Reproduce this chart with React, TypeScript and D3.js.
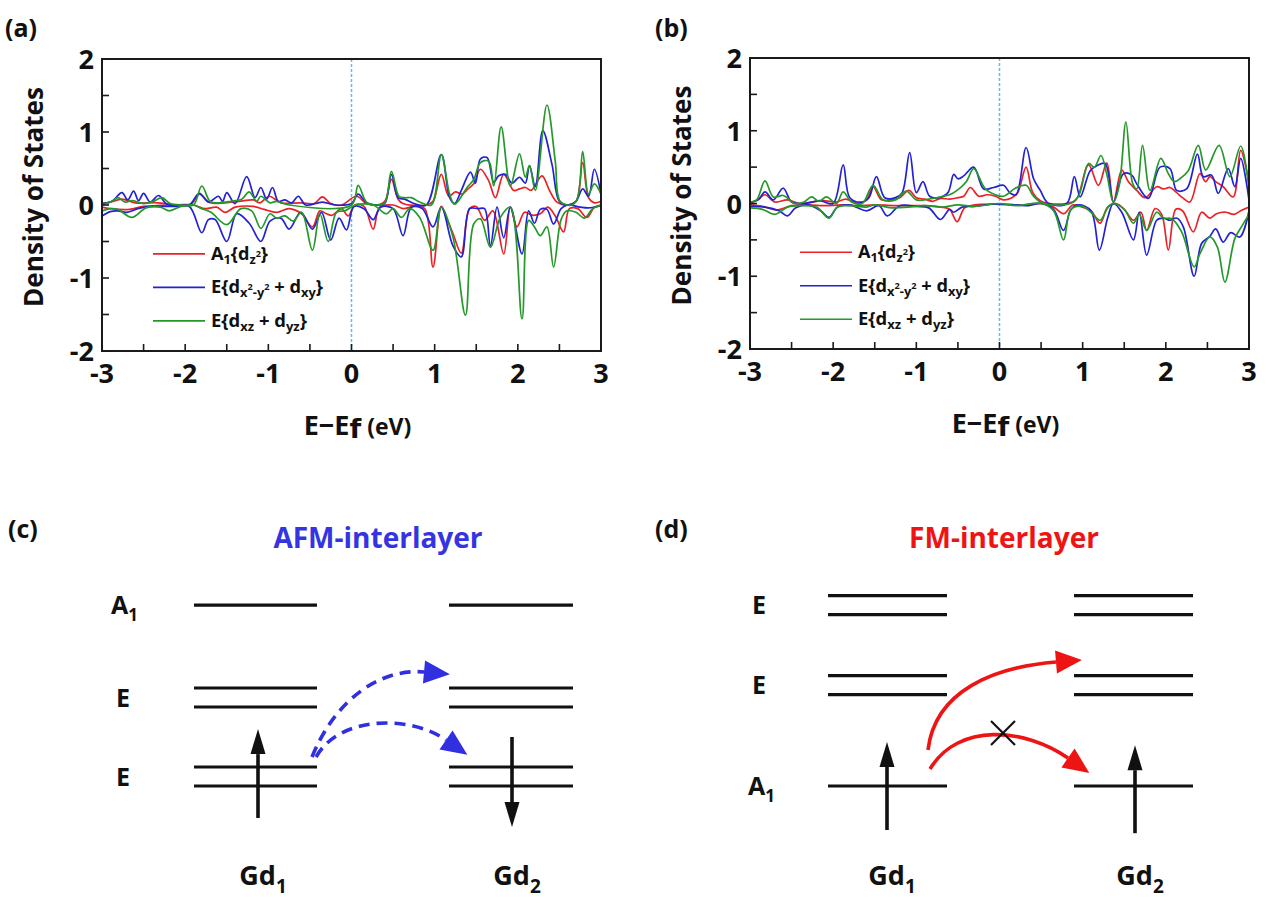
import React from 'react';
import * as d3 from 'd3';

type P = [number, number];

// ---------- axis data ----------
const energyTicks = [-3, -2, -1, 0, 1, 2, 3];
const energyMinor = [-3, -2.5, -2, -1.5, -1, -0.5, 0, 0.5, 1, 1.5, 2, 2.5, 3];
const dosTicks = [-2, -1, 0, 1, 2];
const dosMinor = [-2, -1.5, -1, -0.5, 0, 0.5, 1, 1.5, 2];
const seriesColors = ['#ea2228', '#2222d4', '#24992a'];

// ---------- panel (a) : AFM ----------
const aA1Up: P[] = [[-3,0.02],[-2.9,0.04],[-2.76,0.08],[-2.6,0.03],[-2.33,0.03],[-2.1,0],[-1.92,0.02],[-1.83,0.15],[-1.7,0.03],[-1.52,0.03],[-1.35,0.05],[-1.18,0.07],[-1.1,0.03],[-0.99,0.12],[-0.85,0.03],[-0.61,0.03],[-0.45,0.02],[-0.35,0.11],[-0.25,0.02],[-0.12,0],[0.06,0.12],[0.18,0.02],[0.3,0],[0.4,0.05],[0.48,0.35],[0.56,0.08],[0.62,0.02],[0.9,0],[0.98,0.05],[1.08,0.42],[1.17,0.12],[1.25,0.18],[1.33,0.15],[1.4,0.22],[1.47,0.29],[1.55,0.49],[1.65,0.33],[1.73,0.1],[1.83,0.42],[1.95,0.2],[2.02,0.22],[2.09,0.24],[2.16,0.2],[2.29,0.4],[2.38,0.2],[2.47,0.04],[2.6,0],[2.7,0.05],[2.78,0.58],[2.85,0.1],[2.92,0.03],[3,0.05]];
const aA1Dn: P[] = [[-3,-0.03],[-2.9,-0.05],[-2.67,-0.06],[-2.5,-0.02],[-2.2,0],[-1.9,0],[-1.76,-0.05],[-1.62,-0.03],[-1.52,-0.1],[-1.4,-0.03],[-1.18,-0.02],[-1.05,-0.06],[-0.9,-0.1],[-0.75,-0.05],[-0.6,-0.12],[-0.47,-0.3],[-0.38,-0.08],[-0.3,-0.12],[-0.23,-0.14],[-0.12,-0.05],[-0.04,-0.15],[0.04,0],[0.15,-0.02],[0.26,-0.33],[0.34,-0.03],[0.5,0],[0.62,-0.05],[0.75,-0.02],[0.88,-0.05],[0.98,-0.85],[1.08,-0.02],[1.15,-0.2],[1.22,-0.39],[1.32,-0.66],[1.42,-0.05],[1.5,-0.02],[1.6,-0.21],[1.7,-0.08],[1.83,-0.67],[1.91,-0.03],[1.99,-0.3],[2.08,-0.1],[2.17,-0.14],[2.27,-0.12],[2.36,-0.03],[2.45,-0.15],[2.55,-0.37],[2.62,-0.05],[2.72,-0.05],[2.83,-0.17],[2.92,-0.03],[3,0]];
const aEUp: P[] = [[-3,0.02],[-2.88,0.05],[-2.76,0.17],[-2.69,0.07],[-2.62,0.19],[-2.56,0.06],[-2.5,0.16],[-2.42,0.04],[-2.32,0.13],[-2.22,0.01],[-2.1,0],[-1.95,0],[-1.83,0.16],[-1.72,0.04],[-1.6,0.12],[-1.55,0.05],[-1.5,0.17],[-1.4,0.02],[-1.26,0.39],[-1.16,0.1],[-1.09,0.24],[-1.02,0.08],[-0.95,0.24],[-0.88,0.05],[-0.8,0.07],[-0.72,0.03],[-0.64,0.12],[-0.55,0],[-0.35,0.04],[-0.2,0],[0,0.02],[0.08,0.15],[0.18,0.03],[0.3,0],[0.4,0.02],[0.48,0.42],[0.56,0.1],[0.64,0.08],[0.75,0.02],[0.9,0],[1.08,0.69],[1.18,0.1],[1.24,0.02],[1.32,0.2],[1.43,0.45],[1.49,0.3],[1.55,0.63],[1.63,0.65],[1.71,0.31],[1.77,0.4],[1.85,0.42],[1.93,0.3],[2.02,0.38],[2.09,0.3],[2.14,0.54],[2.21,0.25],[2.3,1.02],[2.41,0.56],[2.5,0.05],[2.6,0],[2.7,0.05],[2.78,0.22],[2.85,0.12],[2.92,0.49],[3,0.15]];
const aEDn: P[] = [[-3,-0.15],[-2.9,-0.09],[-2.81,-0.08],[-2.7,-0.1],[-2.57,-0.05],[-2.4,-0.02],[-2.14,-0.02],[-1.95,-0.02],[-1.8,-0.38],[-1.72,-0.2],[-1.64,-0.2],[-1.5,-0.5],[-1.38,-0.12],[-1.23,-0.25],[-1.09,-0.5],[-0.98,-0.22],[-0.85,-0.18],[-0.75,-0.33],[-0.61,-0.1],[-0.47,-0.33],[-0.36,-0.1],[-0.25,-0.48],[-0.15,-0.18],[-0.06,-0.34],[0.03,-0.02],[0.15,-0.05],[0.26,-0.2],[0.35,-0.03],[0.5,-0.05],[0.62,-0.42],[0.72,-0.03],[0.85,-0.05],[0.98,-0.3],[1.08,-0.03],[1.22,-0.56],[1.32,-0.71],[1.42,-0.05],[1.52,-0.05],[1.6,-0.05],[1.67,-0.56],[1.75,-0.03],[1.83,-0.45],[1.91,-0.03],[2.05,-0.67],[2.13,-0.08],[2.2,-0.25],[2.27,-0.06],[2.35,-0.06],[2.43,-0.26],[2.52,-0.05],[2.6,0],[2.75,-0.03],[2.85,-0.04],[3,-0.01]];
const aExzUp: P[] = [[-3,0],[-2.88,0.05],[-2.81,0.1],[-2.72,0.04],[-2.64,0.06],[-2.5,0.02],[-2.38,0.05],[-2.28,0.1],[-2.18,0.02],[-2.05,0],[-1.9,0],[-1.8,0.26],[-1.7,0.05],[-1.6,0.03],[-1.45,0.05],[-1.32,0.08],[-1.23,0.18],[-1.14,0.05],[-1.09,0.12],[-0.98,0.03],[-0.9,0.05],[-0.75,0],[0,0],[0.08,0.27],[0.18,0.04],[0.3,0],[0.4,0.03],[0.48,0.46],[0.57,0.12],[0.64,0.1],[0.72,0.1],[0.82,0.04],[0.96,0],[1.08,0.69],[1.18,0.15],[1.24,0.01],[1.39,0.24],[1.47,0.35],[1.55,0.58],[1.65,0.6],[1.71,0.26],[1.8,1.07],[1.91,0.26],[2.02,0.7],[2.09,0.38],[2.14,0.54],[2.21,0.2],[2.35,1.37],[2.45,0.6],[2.51,0.05],[2.65,0],[2.72,0.1],[2.78,0.73],[2.85,0.15],[2.92,0.29],[3,0.15]];
const aExzDn: P[] = [[-3,-0.08],[-2.9,-0.05],[-2.81,-0.06],[-2.64,-0.17],[-2.47,-0.04],[-2.3,-0.03],[-2.19,-0.08],[-2.05,-0.02],[-1.9,0],[-1.8,-0.05],[-1.69,-0.1],[-1.5,-0.27],[-1.33,-0.05],[-1.2,-0.08],[-1.09,-0.32],[-0.98,-0.12],[-0.9,-0.18],[-0.8,-0.15],[-0.7,-0.22],[-0.6,-0.1],[-0.47,-0.62],[-0.38,-0.12],[-0.28,-0.5],[-0.18,-0.1],[-0.08,-0.08],[0.05,0],[0.26,0],[0.42,-0.12],[0.5,-0.05],[0.6,-0.17],[0.7,-0.05],[0.82,-0.17],[0.98,-0.62],[1.08,-0.03],[1.22,-0.44],[1.37,-1.51],[1.47,-0.26],[1.55,-0.19],[1.67,-0.58],[1.79,-0.17],[1.91,-0.03],[2.05,-1.56],[2.13,-0.21],[2.2,-0.3],[2.27,-0.42],[2.35,-0.3],[2.43,-0.85],[2.52,-0.2],[2.59,-0.08],[2.7,-0.1],[2.8,-0.18],[2.9,-0.05],[3,0]];

// ---------- panel (b) : FM ----------
const bA1Up: P[] = [[-3,0],[-2.9,0.06],[-2.82,0.12],[-2.7,0.02],[-2.55,0.05],[-2.4,0],[-2.25,0.02],[-2.12,0.04],[-1.96,0.02],[-1.85,0.06],[-1.7,0],[-1.6,0.05],[-1.52,0.23],[-1.42,0.05],[-1.3,0.05],[-1.2,0.08],[-1.09,0.18],[-1,0.08],[-0.9,0.06],[-0.8,0.03],[-0.71,0.07],[-0.6,0.06],[-0.5,0.08],[-0.43,0.1],[-0.35,0.22],[-0.25,0.1],[-0.15,0.12],[-0.05,0.1],[0.05,0.05],[0.15,0.08],[0.22,0.15],[0.32,0.5],[0.4,0.15],[0.5,0.03],[0.6,0],[0.8,0],[0.92,0.05],[1.07,0.53],[1.19,0.25],[1.29,0.56],[1.37,0.02],[1.47,0.46],[1.55,0.3],[1.65,0.18],[1.75,0.08],[1.89,0.23],[1.97,0.2],[2.05,0.22],[2.13,0.15],[2.2,0.08],[2.29,0.02],[2.41,0.41],[2.48,0.3],[2.53,0.37],[2.6,0.3],[2.69,0.23],[2.81,0.09],[2.9,0.73],[2.99,0.37],[3,0.35]];
const bA1Dn: P[] = [[-3,-0.02],[-2.85,-0.04],[-2.68,-0.09],[-2.5,-0.03],[-2.3,-0.02],[-2.1,-0.03],[-1.9,-0.02],[-1.7,-0.03],[-1.5,-0.02],[-1.2,-0.03],[-0.9,-0.03],[-0.7,-0.05],[-0.6,-0.08],[-0.51,-0.25],[-0.42,-0.06],[-0.3,-0.02],[0,-0.01],[0.3,-0.02],[0.5,0],[0.65,-0.05],[0.77,-0.14],[0.88,-0.02],[1,-0.05],[1.1,-0.1],[1.21,-0.27],[1.3,-0.05],[1.4,0],[1.5,-0.08],[1.61,-0.23],[1.7,-0.12],[1.77,-0.37],[1.87,-0.07],[1.95,-0.15],[2.03,-0.64],[2.12,-0.08],[2.2,-0.1],[2.33,-0.39],[2.43,-0.12],[2.53,-0.2],[2.61,-0.14],[2.72,-0.12],[2.82,-0.15],[2.9,-0.1],[3,-0.05]];
const bEUp: P[] = [[-3,0.02],[-2.9,0.05],[-2.82,0.16],[-2.72,0.05],[-2.6,0.21],[-2.5,0.02],[-2.35,0],[-2.16,0.04],[-2,0],[-1.88,0.53],[-1.8,0.08],[-1.66,0.02],[-1.57,0.08],[-1.48,0.37],[-1.38,0.08],[-1.25,0.08],[-1.17,0.15],[-1.08,0.7],[-1,0.15],[-0.92,0.3],[-0.84,0.1],[-0.73,0.08],[-0.62,0.15],[-0.55,0.4],[-0.5,0.34],[-0.43,0.38],[-0.31,0.5],[-0.19,0.2],[-0.07,0.22],[0.05,0.25],[0.13,0.14],[0.2,0.12],[0.32,0.77],[0.41,0.34],[0.49,0.18],[0.59,0],[0.81,0],[0.9,0.37],[0.97,0.09],[1.09,0.45],[1.17,0.52],[1.27,0.55],[1.37,0.02],[1.49,0.41],[1.59,0.39],[1.65,0.27],[1.79,0.07],[1.93,0.5],[2.05,0.48],[2.13,0.18],[2.25,0.2],[2.38,0.68],[2.45,0.37],[2.55,0.39],[2.63,0.14],[2.75,0.48],[2.83,0.23],[2.9,0.62],[3,0.05]];
const bEDn: P[] = [[-3,-0.04],[-2.82,-0.05],[-2.65,-0.1],[-2.55,-0.17],[-2.45,-0.06],[-2.3,-0.02],[-2.15,-0.1],[-2.05,-0.19],[-1.95,-0.05],[-1.8,-0.02],[-1.6,-0.1],[-1.45,-0.03],[-1.35,-0.17],[-1.2,-0.03],[-1,-0.04],[-0.85,-0.06],[-0.71,-0.22],[-0.6,-0.08],[-0.55,-0.12],[-0.45,-0.05],[-0.3,-0.04],[-0.1,-0.01],[0.2,-0.02],[0.35,-0.03],[0.5,0],[0.65,-0.08],[0.77,-0.37],[0.86,-0.08],[0.95,-0.02],[1.1,-0.1],[1.2,-0.64],[1.3,-0.2],[1.37,0],[1.47,-0.12],[1.61,-0.5],[1.68,-0.12],[1.77,-0.71],[1.89,-0.23],[1.97,-0.2],[2.05,-0.23],[2.13,-0.2],[2.21,-0.32],[2.34,-1],[2.43,-0.55],[2.53,-0.45],[2.6,-0.35],[2.69,-0.53],[2.78,-0.4],[2.89,-0.46],[3,-0.1]];
const bExzUp: P[] = [[-3,0.02],[-2.92,0.05],[-2.82,0.31],[-2.72,0.09],[-2.6,0.11],[-2.46,0],[-2.35,0.02],[-2.26,0.09],[-2.17,0.03],[-2.08,0.09],[-1.96,0],[-1.88,0.16],[-1.78,0.02],[-1.65,0],[-1.52,0.25],[-1.4,0.05],[-1.25,0.05],[-1.12,0.17],[-1,0.05],[-0.85,0.06],[-0.71,0.09],[-0.6,0.12],[-0.51,0.18],[-0.4,0.3],[-0.31,0.48],[-0.2,0.25],[-0.15,0.18],[-0.05,0.12],[0.05,0.1],[0.19,0.21],[0.32,0.25],[0.41,0.1],[0.53,0],[0.85,0],[0.95,0.1],[1.07,0.55],[1.14,0.5],[1.22,0.66],[1.29,0.4],[1.37,0.02],[1.44,0.25],[1.52,1.12],[1.6,0.28],[1.65,0.2],[1.72,0.8],[1.81,0.18],[1.94,0.62],[2.03,0.41],[2.1,0.3],[2.18,0.35],[2.27,0.45],[2.39,0.8],[2.48,0.46],[2.64,0.8],[2.77,0.37],[2.9,0.79],[3,0.2]];
const bExzDn: P[] = [[-3,-0.06],[-2.85,-0.08],[-2.7,-0.15],[-2.55,-0.05],[-2.4,-0.03],[-2.2,-0.05],[-2.05,-0.2],[-1.95,-0.05],[-1.8,-0.03],[-1.6,-0.05],[-1.5,-0.02],[-1.3,-0.06],[-1.1,-0.05],[-0.9,-0.03],[-0.7,-0.05],[-0.5,-0.02],[-0.3,-0.04],[0,0],[0.2,-0.03],[0.5,0],[0.65,-0.1],[0.77,-0.5],[0.86,-0.08],[1,-0.04],[1.1,-0.12],[1.21,-0.23],[1.3,-0.06],[1.37,0],[1.5,-0.08],[1.61,-0.27],[1.68,-0.15],[1.77,-0.37],[1.89,-0.12],[1.97,-0.2],[2.07,-0.21],[2.19,-0.39],[2.34,-0.87],[2.41,-0.69],[2.53,-0.46],[2.62,-0.6],[2.71,-1.08],[2.83,-0.48],[2.92,-0.3],[3,-0.15]];

// ---------- schematic level data ----------
const levelsC = [
  { label: 'A', sub: '1', e: 3.17, double: false },
  { label: 'E', sub: '', e: 2, double: true },
  { label: 'E', sub: '', e: 1, double: true },
];
const levelsD = [
  { label: 'E', sub: '', e: 3.26, double: true },
  { label: 'E', sub: '', e: 2.26, double: true },
  { label: 'A', sub: '1', e: 1, double: false },
];

const FONT = '"Open Sans", Lato, sans-serif';

function Legend({ lx, ly }: { lx: number; ly: number }) {
  const rows = [0, 1, 2];
  const gap = 33.5;
  const fs = 17;
  const sub = 12;
  const tiny = 8.5;
  return (
    <g fontFamily={FONT} fontWeight={700} fontSize={fs} fill="#111">
      {rows.map((r) => (
        <line key={r} x1={lx} x2={lx + 52} y1={ly + r * gap} y2={ly + r * gap} stroke={seriesColors[r]} strokeWidth={1.7} />
      ))}
      <text x={lx + 58} y={ly + 6} textLength={57} lengthAdjust="spacingAndGlyphs">
        A<tspan fontSize={sub} dy={4}>1</tspan>
        <tspan dy={-4}>{'{d'}</tspan>
        <tspan fontSize={sub} dy={4}>z</tspan>
        <tspan fontSize={tiny} dy={-7}>2</tspan>
        <tspan dy={3}>{'}'}</tspan>
      </text>
      <text x={lx + 58} y={ly + gap + 6} textLength={112} lengthAdjust="spacingAndGlyphs">
        E{'{d'}
        <tspan fontSize={sub} dy={4}>x</tspan>
        <tspan fontSize={tiny} dy={-7}>2</tspan>
        <tspan fontSize={sub} dy={7}>-y</tspan>
        <tspan fontSize={tiny} dy={-7}>2</tspan>
        <tspan dy={3}>{' + d'}</tspan>
        <tspan fontSize={sub} dy={4}>xy</tspan>
        <tspan dy={-4}>{'}'}</tspan>
      </text>
      <text x={lx + 58} y={ly + 2 * gap + 6} textLength={96} lengthAdjust="spacingAndGlyphs">
        E{'{d'}
        <tspan fontSize={sub} dy={4}>xz</tspan>
        <tspan dy={-4}>{' + d'}</tspan>
        <tspan fontSize={sub} dy={4}>yz</tspan>
        <tspan dy={-4}>{'}'}</tspan>
      </text>
    </g>
  );
}

function DosPanel({ id, px, py, tag, tagX, series, legendX }: {
  id: string; px: [number, number]; py: [number, number]; tag: string; tagX: number; series: P[][]; legendX: number;
}) {
  const x = d3.scaleLinear().domain([-3, 3]).range(px);
  const y = d3.scaleLinear().domain([-2, 2]).range(py);
  const line = d3.line<P>().x((d) => x(d[0])).y((d) => y(d[1])).curve(d3.curveCatmullRom.alpha(0.5));
  const [l, r] = px;
  const [b, t] = py;
  const cx = (l + r) / 2;
  const order = [0, 1, 2];
  return (
    <g>
      <text x={tagX} y={37} fontFamily={FONT} fontWeight={700} fontSize={25} fill="#111">{tag}</text>
      <clipPath id={id}>
        <rect x={l} y={t} width={r - l} height={b - t} />
      </clipPath>
      <line x1={x(0)} x2={x(0)} y1={t} y2={b} stroke="#4fc4f0" strokeWidth={1.5} strokeDasharray="3 2" />
      <g clipPath={`url(#${id})`} fill="none" strokeWidth={1.7} strokeLinejoin="round">
        {order.map((k) => (
          <g key={k} stroke={seriesColors[k]}>
            <path d={line(series[2 * k]) || ''} />
            <path d={line(series[2 * k + 1]) || ''} />
          </g>
        ))}
      </g>
      <rect x={l} y={t} width={r - l} height={b - t} fill="none" stroke="#1a1a1a" strokeWidth={2} />
      {energyMinor.map((v) => (
        <line key={'xm' + v} x1={x(v)} x2={x(v)} y1={b} y2={b - 7} stroke="#1a1a1a" strokeWidth={1.6} />
      ))}
      {dosMinor.map((v) => (
        <line key={'ym' + v} x1={l} x2={l + 7} y1={y(v)} y2={y(v)} stroke="#1a1a1a" strokeWidth={1.6} />
      ))}
      <g fontFamily={FONT} fontWeight={700} fontSize={27} fill="#111">
        {energyTicks.map((v) => (
          <text key={'xt' + v} x={x(v)} y={b + 32} textAnchor="middle">{v < 0 ? '-' + Math.abs(v) : v}</text>
        ))}
        {dosTicks.map((v) => (
          <text key={'yt' + v} x={l - 8} y={y(v) + 10} textAnchor="end">{v < 0 ? '-' + Math.abs(v) : v}</text>
        ))}
      </g>
      <text transform={`translate(${l - 59},${(t + b) / 2 - 8}) rotate(-90)`} textAnchor="middle"
        fontFamily={FONT} fontWeight={700} fontSize={26} fill="#111" textLength={220} lengthAdjust="spacingAndGlyphs">
        Density of States
      </text>
      <text x={cx + 6} y={b + 84} textAnchor="middle" fontFamily={FONT} fontWeight={700} fill="#111">
        <tspan fontSize={27}>E−E</tspan>
        <tspan fontSize={27} fontFamily='"DejaVu Sans", sans-serif' dy={3}>f</tspan>
        <tspan fontSize={23} dy={-3}> (eV)</tspan>
      </text>
      <Legend lx={legendX} ly={y(-0.67)} />
    </g>
  );
}

function arrowHead(tip: P, from: P, len: number, half: number) {
  const ang = Math.atan2(tip[1] - from[1], tip[0] - from[0]);
  const c = Math.cos(ang), s = Math.sin(ang);
  const tx = tip[0] + len * c, ty = tip[1] + len * s;
  return `M${tx},${ty}L${tip[0] - half * s},${tip[1] + half * c}L${tip[0] + half * s},${tip[1] - half * c}Z`;
}

type Hop = { p: P[]; dashed: boolean };

function Diagram({ tag, tagX, title, titleColor, titleX, levels, yDom, yRange, cols, labelX, spins, hops, hopColor, cross }: {
  tag: string; tagX: number; title: string; titleColor: string; titleX: number;
  levels: typeof levelsC; yDom: [number, number]; yRange: [number, number];
  cols: { left: number; right: number; arrowX: number; name: string }[];
  labelX: number[]; spins: { from: number; to: number }[]; hops: Hop[]; hopColor: string; cross?: P;
}) {
  const y = d3.scaleLinear().domain(yDom).range(yRange);
  const split = 9.5;
  return (
    <g>
      <text x={tagX} y={538} fontFamily={FONT} fontWeight={700} fontSize={25} fill="#111">{tag}</text>
      <text x={titleX} y={548} textAnchor="middle" fontFamily={FONT} fontWeight={700} fontSize={28} fill={titleColor}>{title}</text>
      {levels.map((lv, i) => (
        <g key={i}>
          <text x={labelX[i]} y={y(lv.e) + 9} fontFamily={FONT} fontWeight={700} fontSize={25} fill="#111">
            {lv.label}
            {lv.sub && <tspan fontSize={17} dy={7}>{lv.sub}</tspan>}
          </text>
          {cols.map((c, j) => (lv.double ? [-split, split] : [0]).map((o, k) => (
            <line key={`${j}-${k}`} x1={c.left} x2={c.right} y1={y(lv.e) + o} y2={y(lv.e) + o} stroke="#111" strokeWidth={3.2} />
          )))}
        </g>
      ))}
      {cols.map((c, j) => {
        const sp = spins[j];
        const y0 = y(sp.from), y1 = y(sp.to);
        const dir = y1 < y0 ? -1 : 1;
        const base = y1 - dir * 25;
        return (
          <g key={'s' + j}>
            <line x1={c.arrowX} x2={c.arrowX} y1={y0} y2={base} stroke="#111" strokeWidth={3.6} />
            <path d={arrowHead([c.arrowX, base], [c.arrowX, base - dir], 25, 7.5)} fill="#111" />
            <text x={c.arrowX + 5} y={885} textAnchor="middle" fontFamily={FONT} fontWeight={700} fontSize={27} fill="#111">
              Gd<tspan fontSize={19} dy={8}>{c.name}</tspan>
            </text>
          </g>
        );
      })}
      {hops.map((h, i) => {
        const [p0, p1, p2, p3] = h.p;
        const d = `M${p0[0]},${p0[1]}C${p1[0]},${p1[1]} ${p2[0]},${p2[1]} ${p3[0]},${p3[1]}`;
        return (
          <g key={'h' + i}>
            <path d={d} fill="none" stroke={hopColor} strokeWidth={3.6} strokeDasharray={h.dashed ? '11 7' : undefined} />
            <path d={arrowHead(p3, p2, 26, 11.5)} fill={hopColor} />
          </g>
        );
      })}
      {cross && (
        <g stroke="#111" strokeWidth={2.2}>
          <line x1={cross[0] - 12} x2={cross[0] + 12} y1={cross[1] - 12} y2={cross[1] + 12} />
          <line x1={cross[0] - 12} x2={cross[0] + 12} y1={cross[1] + 12} y2={cross[1] - 12} />
        </g>
      )}
    </g>
  );
}

export default function App() {
  return (
    <div style={{ position: 'absolute', left: 0, top: 0 }}>
      <svg width={1266} height={903} viewBox="0 0 1266 903" style={{ display: 'block', background: '#fff' }}>
        <DosPanel id="clipA" px={[102, 601]} py={[351, 59]} tag="(a)" tagX={5}
          series={[aA1Up, aA1Dn, aEUp, aEDn, aExzUp, aExzDn]} legendX={153} />
        <DosPanel id="clipB" px={[750, 1249]} py={[349, 58]} tag="(b)" tagX={655}
          series={[bA1Up, bA1Dn, bEUp, bEDn, bExzUp, bExzDn]} legendX={800} />
        <Diagram tag="(c)" tagX={8} title="AFM-interlayer" titleColor="#3434e2" titleX={378}
          levels={levelsC} yDom={[1, 2]} yRange={[776.5, 697.5]}
          cols={[{ left: 194, right: 317, arrowX: 258, name: '1' }, { left: 449, right: 573, arrowX: 512, name: '2' }]}
          labelX={[111, 116, 116]}
          spins={[{ from: 0.475, to: 1.6 }, { from: 1.5, to: 0.36 }]}
          hops={[
            { p: [[312, 757], [335, 700], [380, 668], [424, 672]], dashed: true },
            { p: [[316, 757], [340, 715], [410, 715], [446, 740]], dashed: true },
          ]}
          hopColor="#3030e0" />
        <Diagram tag="(d)" tagX={655} title="FM-interlayer" titleColor="#ee1414" titleX={1004}
          levels={levelsD} yDom={[1, 2]} yRange={[786, 706]}
          cols={[{ left: 828, right: 947, arrowX: 887, name: '1' }, { left: 1074, right: 1193, arrowX: 1135, name: '2' }]}
          labelX={[752, 752, 748]}
          spins={[{ from: 0.45, to: 1.55 }, { from: 0.41, to: 1.51 }]}
          hops={[
            { p: [[928, 750], [935, 690], [995, 667], [1056, 662]], dashed: false },
            { p: [[930, 769], [958, 722], [1025, 728], [1068, 758]], dashed: false },
          ]}
          hopColor="#ee1414" cross={[1003, 733]} />
      </svg>
    </div>
  );
}
